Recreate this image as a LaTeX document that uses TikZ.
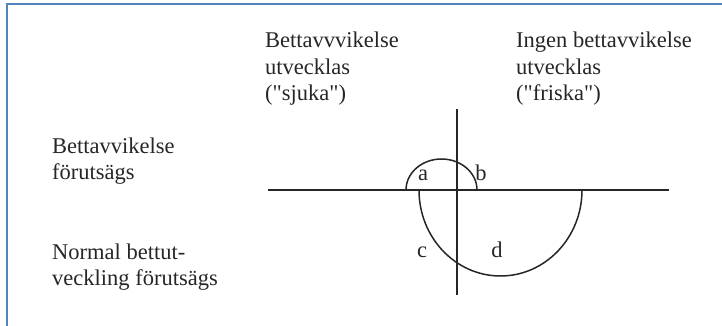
\documentclass[tikz,border=0pt]{standalone}
\usepackage{fontspec}
\setmainfont{Liberation Serif}
\definecolor{frameblue}{RGB}{84,132,190}
\begin{document}
\begin{tikzpicture}[x=1pt,y=1pt,
  lbl/.style={anchor=base west,inner sep=0pt,font=\fontsize{22.5}{26}\selectfont,text=black!85},
  let/.style={anchor=base,inner sep=0pt,font=\fontsize{22.5}{26}\selectfont,text=black!85},
  axis/.style={line width=1.5pt,draw=black!85},
  curve/.style={line width=1.5pt,draw=black!85}]
\useasboundingbox (0,0) rectangle (722,326);
% frame
\draw[frameblue,line width=2pt] (7,0) -- (7,322) -- (722,322);
% column headers
\node[lbl] (h1a) at (265,278) {Bettavvvikelse};
\node[lbl] (h1b) at (265,251) {utvecklas};
\node[lbl] (h1c) at (265,225) {(\textquotedbl sjuka\textquotedbl)};
\node[lbl] (h2a) at (516,278) {Ingen bettavvikelse};
\node[lbl] (h2b) at (516,251) {utvecklas};
\node[lbl] (h2c) at (516,225) {(\textquotedbl friska\textquotedbl)};
% row labels
\node[lbl] (r1a) at (52,172) {Bettavvikelse};
\node[lbl] (r1b) at (52,146) {förutsägs};
\node[lbl] (r2a) at (52,66) {Normal bettut-};
\node[lbl] (r2b) at (52,40) {veckling förutsägs};
% axes
\coordinate (hl) at (268,136);
\coordinate (hr) at (669,136);
\coordinate (vt) at (457,217);
\coordinate (vb) at (457,31);
\draw[axis] (hl) -- (hr);
\draw[axis] (vt) -- (vb);
% arcs
\coordinate (s1) at (477,136);
\coordinate (s2) at (582,136);
\draw[curve] (s1) arc[start angle=0,end angle=180,x radius=35.5,y radius=31];
\draw[curve] (s2) arc[start angle=0,end angle=-180,x radius=81.5,y radius=86];
% cell letters
\node[let] (la) at (423,145) {a};
\node[let] (lb) at (481,145) {b};
\node[let] (lc) at (422,68) {c};
\node[let] (ld) at (497,68) {d};
\end{tikzpicture}
\end{document}
